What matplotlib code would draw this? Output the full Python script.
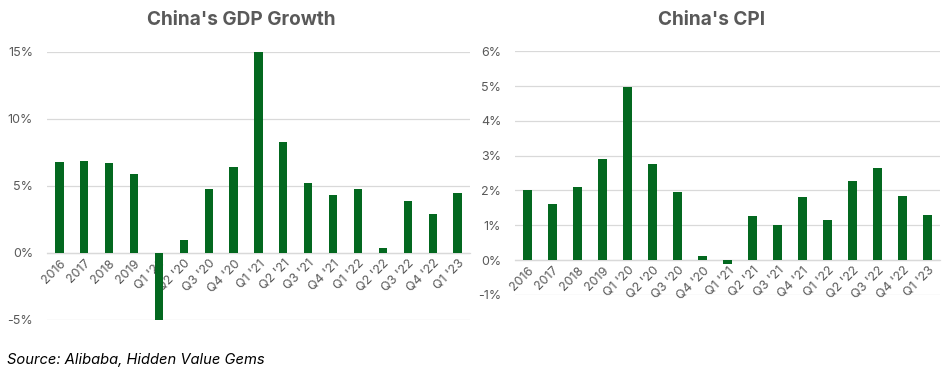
import numpy as np
import matplotlib.pyplot as plt
from matplotlib.ticker import PercentFormatter

plt.rcParams['font.family'] = ['Inter', 'DejaVu Sans']
plt.rcParams['axes.unicode_minus'] = False

labels = ['2016', '2017', '2018', '2019', "Q1 '20", "Q2 '20", "Q3 '20", "Q4 '20",
          "Q1 '21", "Q2 '21", "Q3 '21", "Q4 '21", "Q1 '22", "Q2 '22", "Q3 '22",
          "Q4 '22", "Q1 '23"]
gdp = [6.8, 6.9, 6.7, 5.9, -5.0, 1.0, 4.8, 6.4, 15.0, 8.3, 5.2, 4.3, 4.8, 0.4, 3.9, 2.9, 4.5]
cpi = [2.0, 1.6, 2.1, 2.9, 4.97, 2.75, 1.96, 0.12, -0.12, 1.27, 1.0, 1.8, 1.15, 2.28, 2.65, 1.84, 1.3]

green = '#03681f'
grey = '#595959'
grid = '#d9d9d9'

fig = plt.figure(figsize=(9.45, 3.92), dpi=100)
ax1 = fig.add_axes([0.0497, 0.1837, 0.4476, 0.6837])
ax2 = fig.add_axes([0.545, 0.248, 0.4497, 0.621])


def style(ax, vals, ylo, yhi, step, title, title_x):
    x = np.arange(len(vals))
    ax.bar(x, vals, width=0.33, color=green, zorder=3)
    ax.set_xlim(-0.5, len(vals) - 0.5)
    ax.set_ylim(ylo, yhi)
    ax.set_yticks(np.arange(ylo, yhi + 0.01, step))
    ax.yaxis.set_major_formatter(PercentFormatter(decimals=0))
    ax.grid(axis='y', color=grid, lw=0.9, zorder=0)
    for s in ['top', 'right', 'left']:
        ax.spines[s].set_visible(False)
    ax.spines['bottom'].set_position(('data', 0))
    ax.spines['bottom'].set_color(grid)
    ax.spines['bottom'].set_linewidth(0.9)
    ax.set_xticks(x)
    ax.set_xticklabels(labels, rotation=45, ha='right', rotation_mode='anchor')
    ax.tick_params(axis='x', length=0, pad=3, labelsize=9, labelcolor=grey)
    ax.tick_params(axis='y', length=0, pad=10, labelsize=9, labelcolor=grey)
    fig.text(title_x, 0.948, title, ha='center', va='center', fontsize=13.7,
             fontweight='bold', color=grey)


style(ax1, gdp, -5, 15, 5, "China's GDP Growth", 241 / 945)
style(ax2, cpi, -1, 6, 1, "China's CPI", 712 / 945)

fig.text(7 / 945, 1 - 360 / 392, 'Source: Alibaba, Hidden Value Gems', ha='left',
         va='center', fontsize=10.6, fontstyle='italic', color='#000000')

fig.savefig('out.png', dpi=100)
